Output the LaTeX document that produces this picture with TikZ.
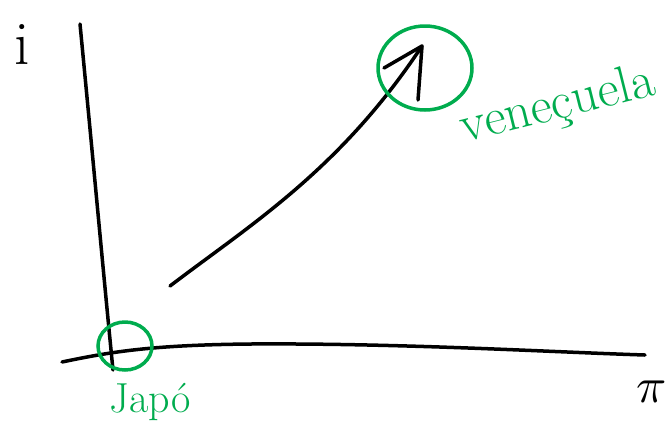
\documentclass[tikz,border=0pt]{standalone}
\usepackage{fontspec}
\usetikzlibrary{shapes.geometric}
\definecolor{inkgreen}{RGB}{0,172,78}
\tikzset{
  ink/.style={line width=3.5pt, line cap=round, line join=round, black},
  greenring/.style={draw=inkgreen, line width=3.5pt, ellipse, inner sep=0pt},
  greenlabel/.style={text=inkgreen, inner sep=0pt},
  blacklabel/.style={text=black, inner sep=0pt}
}
\begin{document}
\begin{tikzpicture}[x=1pt,y=-1pt]
\useasboundingbox (0,0) rectangle (671,440);
% axes
\coordinate (ytop) at (80,24);
\coordinate (ybot) at (113,370);
\coordinate (xleft) at (62,362);
\coordinate (xright) at (645,355);
\draw[ink] (ytop) .. controls (95,180) and (105,290) .. (ybot);
\draw[ink] (xleft) .. controls (110,352) and (150,345) .. (250,344)
  .. controls (400,343) and (550,352) .. (xright);
% arrow
\coordinate (astart) at (170,286);
\coordinate (atip) at (422,46);
\coordinate (barbl) at (384,68);
\coordinate (barbd) at (418,100);
\draw[ink] (astart) .. controls (250,225) and (340,170) .. (atip);
\draw[ink] (barbl) -- (atip) -- (barbd);
% green circles
\node[greenring, minimum width=94pt, minimum height=84pt] (vcirc) at (425,68) {};
\node[greenring, minimum width=54pt, minimum height=48pt] (jcirc) at (125,346) {};
% labels
\node[blacklabel, font=\fontsize{62}{62}\selectfont] (ilab) at (22,44) {i};
\node[blacklabel, scale=5] (pilab) at (652,392) {$\pi$};
\node[greenlabel, font=\fontsize{52}{52}\selectfont, rotate=14, anchor=center] (vlab) at (558,106) {veneçuela};
\node[greenlabel, font=\fontsize{42}{42}\selectfont] (jlab) at (150,402) {Japó};
\end{tikzpicture}
\end{document}
